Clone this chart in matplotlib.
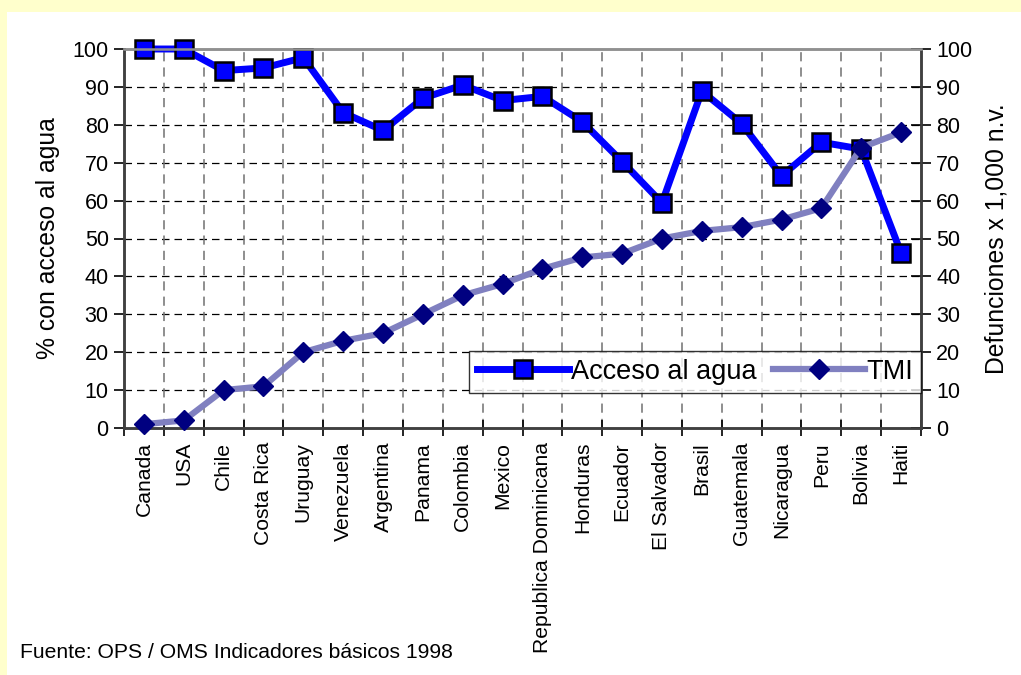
import matplotlib
matplotlib.use("Agg")
import matplotlib.pyplot as plt
from matplotlib.patches import Rectangle

plt.rcParams['font.family'] = ['Liberation Sans', 'DejaVu Sans']

paises = ["Canada", "USA", "Chile", "Costa Rica", "Uruguay", "Venezuela",
          "Argentina", "Panama", "Colombia", "Mexico", "Republica Dominicana",
          "Honduras", "Ecuador", "El Salvador", "Brasil", "Guatemala",
          "Nicaragua", "Peru", "Bolivia", "Haiti"]
acceso_agua = [100, 100, 94.3, 95, 97.7, 83.2, 78.5, 87, 90.5, 86.4, 87.5,
               80.8, 70.3, 59.4, 88.9, 80.3, 66.5, 75.4, 73.6, 46.2]
tmi = [1, 2, 10, 11, 20, 23, 25, 30, 35, 38, 42, 45, 46, 50, 52, 53, 55,
       58, 74, 78]
yticks = list(range(0, 101, 10))

fig = plt.figure(figsize=(10.21, 6.75), dpi=100)
fig.patch.set_facecolor('#FFFFCC')
fig.patches.append(Rectangle((7 / 1021, 0), 1, 1 - 12 / 675,
                             transform=fig.transFigure, facecolor='white',
                             edgecolor='none', zorder=-10))

ax = fig.add_axes([124 / 1021, 1 - 428 / 675, 797 / 1021, 379 / 675])
ax.set_facecolor('white')
x = range(len(paises))

# grid
for yv in yticks[1:-1]:
    ax.axhline(yv, color='black', lw=0.9, ls=(0, (6, 4)), zorder=1)
for b in range(1, len(paises)):
    ax.axvline(b - 0.5, color='#707070', lw=1.1, ls=(0, (6, 4)), zorder=1)

ax.plot(x, acceso_agua, color='#0000FF', lw=5, marker='s', markersize=13.5,
        markerfacecolor='#0000FF', markeredgecolor='black',
        markeredgewidth=1.8, clip_on=False, zorder=3, label='Acceso al agua')
ax.set_xlim(-0.5, len(paises) - 0.5)
ax.set_ylim(0, 100)
ax.set_yticks(yticks)
ax.set_xticks([b - 0.5 for b in range(len(paises) + 1)], minor=False)
ax.set_xticklabels([])
ax.set_xticks(list(x), minor=True)
ax.set_xticklabels(paises, minor=True, rotation=90, fontsize=15.2)
ax.tick_params(axis='x', which='minor', length=0, pad=10)
ax.tick_params(axis='x', which='major', direction='inout', length=12,
               width=1.2)
ax.tick_params(axis='y', direction='out', length=7, width=1.2,
               labelsize=15.5, pad=4)
ax.set_ylabel('% con acceso al agua', fontsize=17.8, labelpad=9)

ax2 = ax.twinx()
ax2.plot(x, tmi, color='#8080C0', lw=4.5, marker='D', markersize=10,
         markerfacecolor='#000080', markeredgecolor='#000080',
         clip_on=False, zorder=4, label='TMI')
ax2.set_ylim(0, 100)
ax2.set_yticks(yticks)
ax2.tick_params(axis='y', direction='inout', length=14, width=1.2,
                labelsize=15.5, pad=4)
ax2.set_ylabel('Defunciones x 1,000 n.v.', fontsize=17.8, labelpad=9)

for a in (ax, ax2):
    for side in ('left', 'bottom', 'right'):
        a.spines[side].set_color('#404040')
        a.spines[side].set_linewidth(1.8)
    a.spines['top'].set_color('#909090')
    a.spines['top'].set_linewidth(1.8)

h1, l1 = ax.get_legend_handles_labels()
h2, l2 = ax2.get_legend_handles_labels()
leg = ax2.legend(h1 + h2, l1 + l2, ncol=2, loc='lower right',
                 bbox_to_anchor=(1.0, 35 / 379), fontsize=19.5,
                 frameon=True, fancybox=False, handlelength=3.4,
                 handletextpad=0.05, columnspacing=0.6, borderpad=0.3,
                 borderaxespad=0)
leg.get_frame().set_edgecolor('black')
leg.get_frame().set_linewidth(1.0)

fig.text(20 / 1021, 1 - 658 / 675, 'Fuente: OPS / OMS Indicadores básicos 1998',
         fontsize=15.2, va='baseline')

fig.savefig('out.png', dpi=100, facecolor=fig.get_facecolor())
